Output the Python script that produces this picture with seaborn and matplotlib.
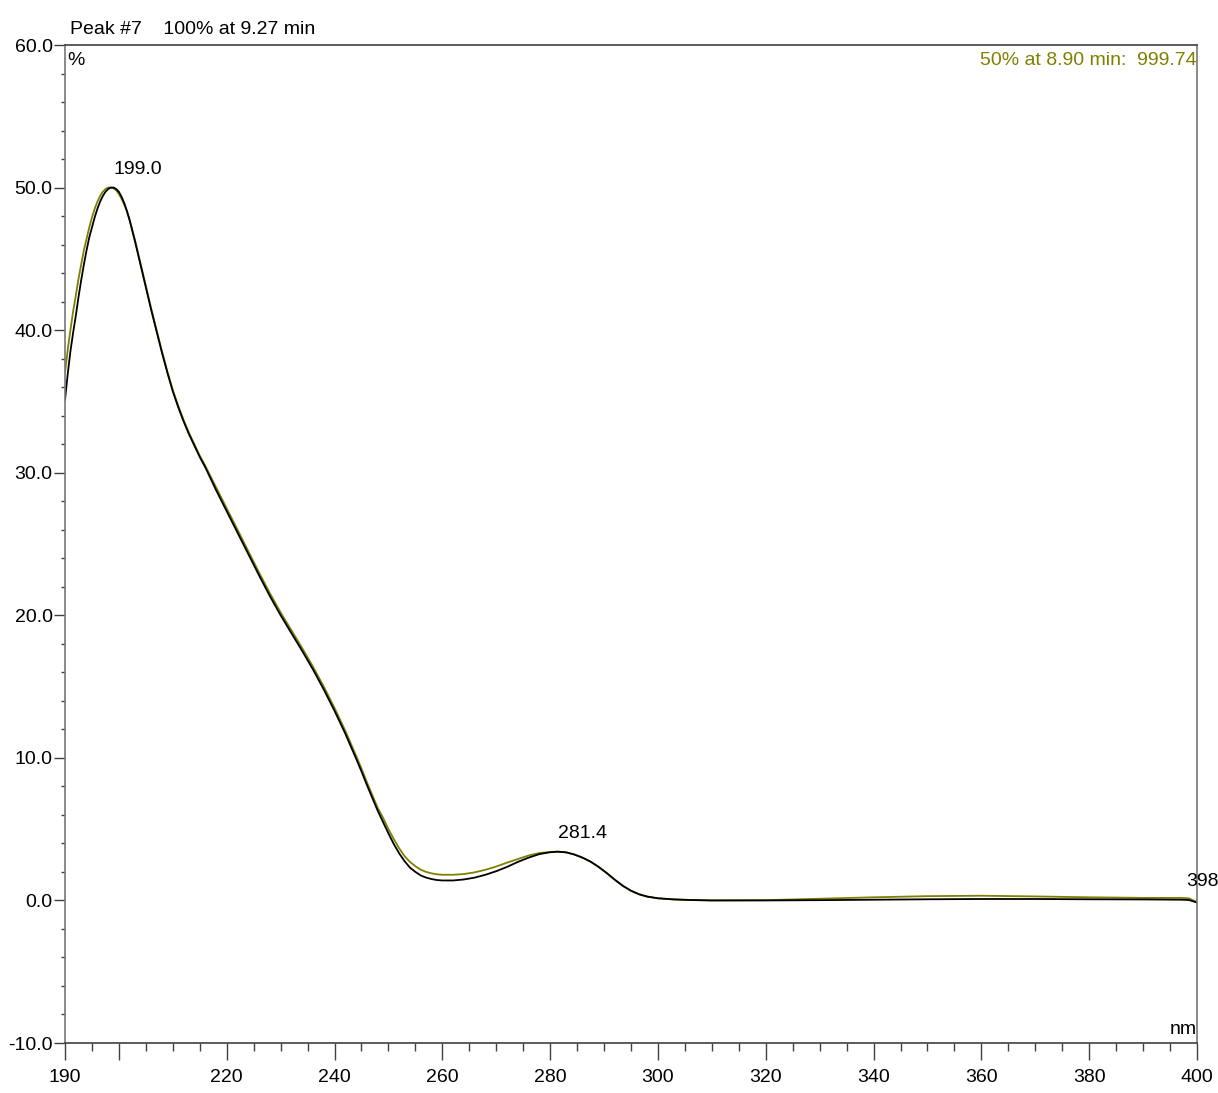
#!/usr/bin/env python3

import matplotlib
matplotlib.use("Agg")
import matplotlib.pyplot as plt
from matplotlib.ticker import FixedLocator, MultipleLocator, FormatStrFormatter
import pandas as pd
import seaborn as sns


# spectrum (nm, %)
wavelength = [
	190, 190.5, 191, 191.5, 192, 192.5, 193, 193.5, 194, 194.5,
	195, 195.5, 196, 196.5, 197, 197.5, 198, 198.5, 199, 199.5,
	200, 200.5, 201, 201.5, 202, 203, 204, 205, 206, 207,
	208, 209, 210, 211, 212, 213, 214, 215, 216, 218,
	220, 222, 224, 226, 228, 230, 232, 234, 236, 238,
	240, 242, 244, 245, 246, 247, 248, 249, 250, 251,
	252, 253, 254, 255, 256, 257, 258, 259, 260, 262,
	264, 266, 268, 270, 272, 274, 276, 278, 280, 281.4,
	283, 284.5, 286, 287.5, 289, 290.5, 292, 293.5, 295, 296.5,
	298, 300, 303, 306, 310, 320, 330, 340, 350, 360,
	370, 380, 390, 397, 398.5, 400,
]
# 100% at 9.27 min (black trace)
peak_100 = [
	35.1, 36.9, 38.5, 39.8, 41.0, 42.3, 43.5, 44.6, 45.6, 46.5,
	47.2, 47.9, 48.5, 49.0, 49.4, 49.7, 49.9, 50.0, 50.0, 49.9,
	49.7, 49.35, 48.9, 48.35, 47.7, 46.2, 44.6, 43.0, 41.4, 39.9,
	38.4, 37.0, 35.7, 34.6, 33.6, 32.7, 31.9, 31.1, 30.4, 28.8,
	27.3, 25.8, 24.3, 22.8, 21.35, 20.0, 18.75, 17.5, 16.2, 14.8,
	13.3, 11.7, 9.95, 9.05, 8.1, 7.2, 6.3, 5.5, 4.7, 3.95,
	3.3, 2.75, 2.3, 2.0, 1.75, 1.6, 1.5, 1.43, 1.4, 1.4,
	1.47, 1.6, 1.8, 2.05, 2.35, 2.7, 3.0, 3.25, 3.38, 3.42,
	3.37, 3.22, 3.0, 2.72, 2.35, 1.92, 1.45, 1.02, 0.68, 0.43,
	0.27, 0.15, 0.07, 0.03, 0.0, 0.0, 0.02, 0.05, 0.08, 0.1,
	0.1, 0.08, 0.07, 0.05, 0.03, -0.15,
]
# 50% at 8.90 min (olive trace)
peak_50 = [
	37.0, 38.6, 40.0, 41.3, 42.4, 43.6, 44.6, 45.6, 46.4, 47.2,
	47.9, 48.5, 49.0, 49.4, 49.7, 49.9, 50.0, 50.0, 49.95, 49.8,
	49.55, 49.2, 48.8, 48.3, 47.7, 46.3, 44.7, 43.1, 41.5, 40.0,
	38.5, 37.1, 35.8, 34.7, 33.7, 32.8, 32.0, 31.2, 30.5, 29.0,
	27.5, 26.0, 24.5, 23.0, 21.55, 20.2, 18.95, 17.7, 16.4, 15.0,
	13.5, 11.9, 10.15, 9.25, 8.3, 7.4, 6.5, 5.8, 5.0, 4.3,
	3.65, 3.1, 2.7, 2.4, 2.15, 2.0, 1.9, 1.83, 1.8, 1.8,
	1.85, 1.97, 2.15, 2.38, 2.65, 2.9, 3.15, 3.33, 3.4, 3.42,
	3.37, 3.22, 3.0, 2.72, 2.35, 1.92, 1.45, 1.02, 0.68, 0.43,
	0.27, 0.15, 0.07, 0.03, 0.0, 0.02, 0.12, 0.22, 0.3, 0.33,
	0.28, 0.22, 0.18, 0.18, 0.15, -0.12,
]

# labelled maxima
peak_nm = [199.0, 281.4, 398.0]
peak_labels = ["199.0", "281.4", "398"]
peak_values = [50.0, 3.42, 0.05]

olive = "#808000"
spine_color = "#404040"
fs = 14

data = pd.DataFrame({"nm": wavelength, "black": peak_100, "olive": peak_50})

sns.set_style("ticks")
plt.rcParams["font.family"] = ["Liberation Sans Narrow", "Liberation Sans", "DejaVu Sans"]
plt.rcParams["font.size"] = fs
plt.rcParams["text.color"] = "black"
plt.rcParams["xtick.color"] = spine_color
plt.rcParams["ytick.color"] = spine_color
plt.rcParams["xtick.labelcolor"] = "black"
plt.rcParams["ytick.labelcolor"] = "black"

fig = plt.figure(figsize=(12.18, 10.93), dpi=100)
ax = fig.add_axes([65 / 1218, 1 - 1043 / 1093, (1197 - 65) / 1218, (1043 - 45) / 1093])

# olive first so the black trace sits on top
sns.lineplot(data=data, x="nm", y="olive", color=olive, linewidth=1.3, ax=ax)
sns.lineplot(data=data, x="nm", y="black", color="black", linewidth=1.3, ax=ax)

ax.set_xlim(190, 400)
ax.set_ylim(-10, 60)
ax.set_xlabel("")
ax.set_ylabel("")

# x ticks: 200 has a long tick but no label
major_x = [190, 200] + list(range(220, 401, 20))
ax.xaxis.set_major_locator(FixedLocator(major_x))
ax.set_xticklabels(["" if v == 200 else str(v) for v in major_x])
ax.xaxis.set_minor_locator(MultipleLocator(5))
ax.yaxis.set_major_locator(MultipleLocator(10))
ax.yaxis.set_major_formatter(FormatStrFormatter("%.1f"))
ax.yaxis.set_minor_locator(MultipleLocator(2))

ax.tick_params(axis="x", which="major", direction="out", length=12.5, width=1.0,
	pad=6, labelsize=fs, bottom=True)
ax.tick_params(axis="x", which="minor", direction="out", length=6, width=1.0, bottom=True)
ax.tick_params(axis="y", which="major", direction="out", length=8, width=1.0,
	pad=1, labelsize=fs, left=True)
ax.tick_params(axis="y", which="minor", direction="out", length=3, width=1.0, left=True)

for side in ["left", "right", "top", "bottom"]:
	ax.spines[side].set_visible(True)
	ax.spines[side].set_color(spine_color)
	ax.spines[side].set_linewidth(1.2)
ax.spines["left"].set_color("#777777")
ax.spines["right"].set_color("#777777")

# peak labels
for x, y, label in zip(peak_nm, peak_values, peak_labels):
	ax.annotate(label, xy=(x, y), xytext=(0, 7), textcoords="offset points",
		ha="left", va="bottom", fontsize=fs, annotation_clip=False)

# header and unit labels
fig.text(70 / 1218, 1 - 34 / 1093, "Peak #7    100% at 9.27 min", ha="left", va="baseline", fontsize=fs)
ax.text(0.002, 0.993, "%", transform=ax.transAxes, ha="left", va="top", fontsize=fs)
ax.text(1.0, 0.993, "50% at 8.90 min:  999.74", transform=ax.transAxes,
	ha="right", va="top", fontsize=fs, color=olive)
ax.text(1.0, 0.005, "nm", transform=ax.transAxes, ha="right", va="bottom", fontsize=fs)

plt.savefig("out.png", dpi=100)
plt.close()
